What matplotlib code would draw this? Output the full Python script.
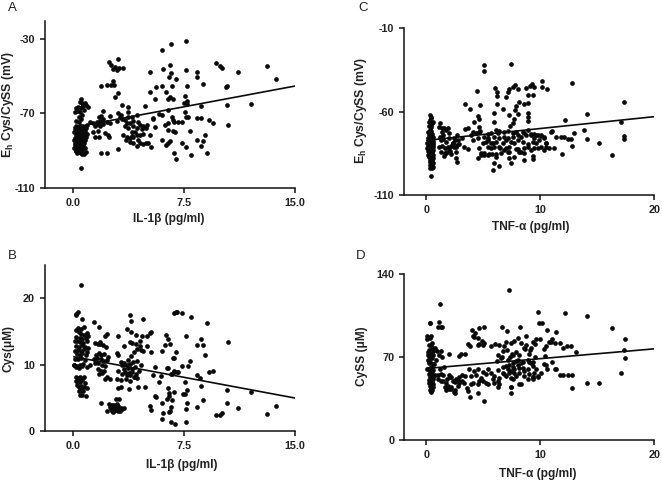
import matplotlib
matplotlib.use("Agg")
import matplotlib.pyplot as plt

plt.rcParams['font.family'] = ['Liberation Sans', 'DejaVu Sans']
plt.rcParams['mathtext.fontset'] = 'custom'
plt.rcParams['mathtext.rm'] = 'Liberation Sans:bold'
plt.rcParams['axes.unicode_minus'] = False

a_x = [7.6,6.59,6.02,9.68,9.93,10.08,13.08,11.14,13.69,6.52,6.09,5.21,7.6,8.39,6.59,6.5,6.95,8.39,8.78,10.38,10.35,6.0,5.59,6.68,7.69,
       5.21,6.29,7.56,5.5,6.43,6.77,6.54,7.67,7.51,7.69,12.02,10.38,8.64,4.83,6.43,7.58,7.62,5.82,5.98,5.39,6.7,6.77,7.76,8.39,8.64,9.2,9.45,10.49,
       6.2,6.43,6.79,7.08,7.38,5.5,6.41,6.77,6.9,7.87,5.21,8.91,6.02,6.54,6.41,6.25,8.39,8.78,8.66,7.38,7.62,9.02,7.99,6.81,6.97,5.28,4.9,
       .52,.45,.56,.79,.86,.97,.68,.34,.18,.45,.61,.27,.11,.45,.72,.56,.41,.18,.38,.52,
       .15,.31,.44,.62,.76,.95,.1,.24,.41,.55,.71,.86,.05,.21,.36,.5,.64,.82,.16,.29,.46,.6,.77,.93,.09,.26,.39,.56,.7,.84,.06,.22,.37,.52,.66,.8,
       .14,.3,.45,.58,.74,.11,.25,.42,.54,.69,.07,.2,.35,.49,.63,.78,.16,.3,.47,.6,.17,.33,.62,.74,.54,.85,.28,.41,.57,
       .54,1.13,1.35,1.58,1.74,1.87,2.03,1.8,1.92,1.65,1.47,1.8,2.03,2.26,2.48,2.48,2.03,1.35,1.69,1.74,1.47,2.14,2.37,2.44,1.87,2.25,3.03,
       2.41,3.03,2.52,2.82,3.11,3.34,2.71,2.93,1.87,2.25,2.52,2.66,2.78,3.05,2.82,3.32,3.7,3.68,
       3.05,3.2,3.16,3.3,3.72,3.95,4.29,2.98,3.5,3.6,3.83,4.06,4.4,4.51,4.74,4.96,3.5,3.72,4.06,4.29,4.63,4.9,3.38,3.6,3.83,4.06,4.29,3.95,4.17,4.51,4.74,3.83,4.06,4.33,4.51,4.74,5.03,3.95,4.4,3.56,5.42]
a_y = [-31.3,-32.5,-36.1,-42.7,-44.7,-45.6,-44.7,-47.9,-51.7,-43.8,-46.1,-47.8,-46.9,-47.8,-48.1,-50.4,-51.3,-50.4,-54,-55.3,-55.8,-55.5,-56,-55.5,-55.5,
       -58.5,-58.5,-60.5,-62.1,-62.1,-62.1,-61.2,-63.4,-64.6,-65,-64.8,-65.3,-65.9,-66.2,-68.4,-69.1,-71.8,-70.5,-71.1,-72.3,-72,-73.6,-72.2,-72.7,-72.5,-73.8,-75.2,-76.5,
       -76.1,-75,-74.7,-74.8,-74.8,-77.4,-79,-79.3,-80.2,-79.3,-81.5,-81.5,-84.5,-84.9,-86.1,-86.9,-84.2,-85.1,-87.6,-86,-88.1,-91.3,-92.2,-91.3,-94.6,-88.1,-85.8,
       -62.3,-63.7,-64.6,-64.3,-65.5,-66.8,-66,-66.8,-67.3,-67.3,-66.8,-68.6,-69.5,-69.1,-68.2,-70.9,-72.2,-73.9,-74.5,-73.2,
       -76.8,-77.2,-76.6,-77,-77.3,-76.4,-78.4,-78.6,-78.2,-78.7,-78.5,-78,-80.1,-79.8,-80.2,-80,-79.7,-79.5,-81.5,-81.3,-81.7,-81.2,-81.6,-81,-83,-82.8,-83.2,-82.9,-83.1,-82.5,
       -84.4,-84.6,-84.2,-84.7,-84.3,-84.1,-85.9,-85.6,-86.1,-85.8,-85.7,-87.2,-87.4,-87.1,-87.5,-87,-88.8,-88.6,-89,-88.7,-88.4,-88.5,-90.2,-90,-90.4,-90.1,-90.3,-89.7,-91.4,-91.6,-91.2,-91,-91.5,-90.8,-91.8,
       -99.5,-74.5,-75,-74.4,-72.2,-71.4,-73.2,-73.9,-74.5,-75.9,-76.7,-76.7,-75.9,-74.5,-75,-71.2,-68.6,-79.9,-79.3,-82.5,-82.5,-80.8,-81.7,-82.5,-91.2,-91.2,-89.2,
       -42.4,-41,-44,-44.9,-45.4,-45.4,-46.1,-46.6,-55.5,-55,-54.8,-52.7,-54.8,-58.9,-61,-65.7,-66.6,-69,
       -70,-71,-72.2,-72.9,-72,-72.2,-70.9,-73.9,-73.6,-75.4,-75.4,-74,-74.5,-76.3,-76.9,-76.3,-76.7,-77.9,-77,-77.9,-78.4,-77.9,-81.7,-82.6,-83.5,-82.6,-81.7,-80,-80,-81.7,-81,-85.3,-86.1,-87.6,-85.8,-86.6,-85.8,-82,-84.6,-84.2,-72.9]

b_x = [.54,.3,.2,.15,.6,6.95,6.81,7.04,7.38,7.99,9.02,10.49,7.6,8.66,8.39,8.78,8.91,7.87,7.76,7.33,7.08,6.79,6.63,8.39,8.6,8.62,9.2,9.45,10.38,12.02,10.38,11.14,8.78,8.39,13.69,13.08,10.08,9.93,9.68,7.6,6.9,6.59,6.02,6.07,6.02,6.5,6.59,6.54,7.6,7.69,7.56,7.69,7.44,7.58,6.72,6.92,6.81,6.29,6.43,6.54,6.2,6.02,5.21,5.28,5.01,4.63,5.28,5.5,5.42,5.93,5.8,6.32,6.43,6.7,6.79,5.5,5.62,5.21,5.23,4.83,6.41,6.47,6.32,6.5,6.79,6.68,7.0,
       4.74,3.81,3.92,3.61,3.9,3.02,2.26,2.14,1.83,1.42,1.72,3.99,4.24,4.51,4.24,4.51,4.96,4.69,3.43,3.83,2.93,
       .3,.5,.7,.9,.15,.38,.55,.75,.98,.2,.42,.62,.85,.1,.28,.46,.68,.92,.16,.36,.58,.8,1.02,.12,.3,.5,.7,.95,.22,.44,.6,.84,.1,.33,.55,.78,.05,.25,.48,.66,.9,1.15,.02,.2,.38,.6,.18,.3,.42,.55,.7,.15,.28,.44,.6,.76,.28,.4,.55,.72,.9,.36,.52,.68,.46,.62,.84,
       1.5,1.65,1.8,2.0,2.2,1.55,1.75,1.9,2.1,2.35,1.4,1.6,1.85,2.05,2.25,1.5,1.7,1.95,2.15,1.65,1.85,2.05,1.75,1.95,2.3,2.5,2.15,
       3.0,3.2,3.45,3.7,3.9,4.1,4.3,4.55,3.3,3.6,3.85,4.05,4.3,4.6,3.4,3.7,3.95,4.2,4.45,3.5,3.75,4.0,4.25,3.05,3.3,3.6,3.85,4.1,4.3,2.95,3.2,3.55,3.85,4.15,4.4,3.0,3.25,3.8,
       1.9,2.4,2.6,2.75,2.9,3.1,2.45,2.65,2.85,3.05,3.3,2.6,2.8,3.0,3.15,2.3,2.55,2.85,3.05,3.2,3.4,2.7,2.95]
b_y = [21.95,18,17.5,17.7,16.95,17.9,17.75,18,17.8,17.15,16.3,13.4,14.4,13.9,12.95,12.95,11.4,10.55,9.75,9.85,8.95,8.95,8.55,8.5,8,6.8,8.9,9.05,6.2,5.95,4.2,3.5,4.7,3.7,3.8,2.55,2.8,2.45,2.45,1.4,1.05,1.4,1.9,2.75,4.3,2.95,3.7,3.05,3.3,4.3,5.55,6.15,5.65,7.45,10.95,11.95,10.95,14.55,13.9,13.05,12.95,12.05,14.8,14.95,14.3,14.4,11.95,9.65,8.45,8.3,7.4,9.55,9.55,8.55,9.05,5.3,5.15,3.8,3.15,6.7,6.55,5.8,4.9,5.3,5.95,4.65,8.95,
       16.95,17.45,16.65,15.4,14.95,14.3,14.65,14.4,13.05,16.45,15.7,13.3,14.45,13.55,13.15,12.8,12.8,12.05,12.8,13.45,11.8,
       15.6,15.4,15.7,14.8,15.2,15,14.7,14.5,14.4,14.2,14.1,13.9,14,13.5,13.6,13.4,13.2,13.5,12.8,12.7,12.9,12.6,12.5,12.1,12.2,12,12.3,11.9,11.6,11.5,11.7,11.4,10.9,10.8,11,10.7,9.9,9.8,10,10.1,9.7,10,9.9,9.6,9.5,9.8,8.2,8,8.1,7.9,8.2,7.5,7.6,7.4,7.7,7.3,6.9,6.7,6.8,6.6,6.5,6.1,6.2,6,5.4,5.5,5.3,
       13.3,13.1,13.4,12.9,12.6,11.5,11.7,11.4,11.6,11.2,10.9,11,10.8,10.6,10.7,10.2,10.3,10,9.8,9.4,9.1,9,8.6,8.8,8.2,7.9,7.8,
       11.4,10.4,10.3,10.7,11.3,11.9,12.4,12.2,9.9,10,10.1,10.4,10.5,9.9,9.4,9.5,9.3,9.6,9.1,8.9,8.8,8.9,8.6,9,8.6,8.5,8.4,8.2,8,7.9,7.7,7.9,7.6,8.1,6.6,6.5,6.7,6.4,
       4.3,4.1,4,3.9,4.8,4.9,3.7,3.6,3.5,3.8,3.4,3,3.2,3.4,3,3,3.3,3.2,3.1,3.5,3.45,2.9,4.05]

c_x = [.44,5.09,5.09,7.43,10.15,12.78,17.34,14.09,12.19,10.12,10.58,9.24,9.12,9.42,8.74,8.01,7.78,7.6,7.28,7.19,6.99,6.02,6.17,6.2,4.44,3.42,3.86,4.74,6.2,6.7,5.96,4.5,4.65,4.21,5.91,7.28,7.66,7.57,7.37,7.81,7.89,8.16,8.54,8.89,9.33,8.95,8.89,8.89,8.95,8.01,
       17.08,17.37,17.37,13.86,14.09,12.98,12.78,15.12,16.29,11.9,12.69,12.4,12.1,11.8,11.37,10.9,11.05,11.16,10.79,10.5,10.5,10.35,10.05,9.77,9.47,9.18,8.89,8.6,
       4.5,5.09,4.8,5.38,5.8,6.11,5.96,6.4,5.88,7.43,7.22,7.72,8.6,9.33,9.39,8.54,8.07,8.3,7.13,6.84,6.49,5.96,5.67,5.38,
       .3,.4,.35,.25,.45,.5,.38,.2,.4,.55,.3,.45,.15,.35,.5,.25,.42,.55,.12,.3,.46,.35,.6,.22,.38,.5,.1,.28,.45,.56,.18,.35,.5,.62,.05,.25,.4,.58,.12,.3,.46,.6,.2,.36,.52,.12,.3,.48,.6,.22,.38,.54,.3,.46,.62,.35,.5,.4,.56,.3,.48,.4,.55,.36,.5,
       1.2,1.15,1.35,1.4,1.45,1.55,1.2,1.75,1.9,2.0,2.4,2.7,1.3,1.5,1.75,2.0,2.3,2.55,2.8,3.1,1.15,1.4,1.65,1.9,2.15,2.45,2.7,1.3,1.6,1.8,2.1,2.6,2.65,
       8.3,8.74,9.18,9.62,10.06,10.35,10.5,7.87,7.57,7.13,6.84,6.4,6.11,5.67,5.38,5.09,4.65,4.36,4.06,3.92,3.63,3.39,4.65,4.74,
       8.45,8.89,9.33,9.62,10.06,9.77,10.35,9.18,8.89,8.01,7.72,7.43,6.99,6.7,6.4,6.11,5.82,5.38,4.94,4.5,4.06,5.38,5.96,6.4,6.84,7.57,8.01,7.28,7.87,6.55,7.28,8.16,9.47,4.8,5.09,5.53,6.11,
       3.33,3.63,2.89,2.6,2.31,2.02,1.73,2.16,1.58,2.6,
       5.23,6.26,7.13,8.45,9.47,9.91,8.6,6.99,5.67,4.65]
c_y = [-98.8,-32.2,-35.6,-31.2,-41.6,-42.8,-54.2,-61.2,-64.8,-45.2,-46.6,-43.4,-44.4,-45.4,-45.6,-46.6,-43.8,-45.4,-46.6,-48.4,-51.4,-45.8,-48,-50.6,-47.8,-55.2,-58.2,-55.8,-55.2,-58.6,-61,-62.4,-64.4,-66.2,-66,-62.2,-64.4,-66.6,-68.6,-59,-56.6,-54.2,-55.4,-54.6,-50,-50,-60.6,-63,-65.4,-61.6,
       -66.2,-74.6,-76.6,-71.2,-76.2,-72.8,-80.6,-78.8,-85.8,-85.2,-76.6,-76.6,-75,-75.4,-75,-72,-71.6,-81.6,-82,-81.4,-79,-75,-74,-74,-73.6,-74,-71,-73,
       -87.8,-84.6,-86,-86,-85.4,-87,-91,-92.4,-94.8,-91,-88,-87,-88.8,-88.4,-86.4,-85,-82.4,-84,-84,-83,-82,-81,-79,-77,
       -62,-63.5,-65,-66,-64,-67,-68,-68.5,-69.5,-66,-71,-71.5,-72,-73,-73.5,-74,-75,-75,-76,-76,-76.5,-77.5,-77.5,-78,-78,-78.5,-79,-79.5,-79.5,-79,-80.5,-80.5,-81,-80,-82,-82,-82.5,-81.5,-83.5,-83.5,-84,-83,-85,-85,-85,-86,-86.5,-86.5,-86,-87.5,-87.5,-88,-89,-89,-88,-90,-90,-91,-91,-92,-92,-93,-93,-94,-94,
       -67,-69,-70,-72,-74,-70,-75,-71,-70,-73,-76,-74,-77,-76.5,-78,-76,-79,-77,-77,-76,-81,-80.5,-82,-81,-80.5,-81,-80,-84,-85,-84,-83.5,-88,-90,
       -75,-74,-73.6,-74,-74.6,-76,-79,-72,-73,-71.4,-72,-71.4,-71,-73,-73.4,-75,-72,-73,-72,-74,-70,-70.4,-69,-71.4,
       -78,-79.4,-78,-79,-81,-82,-83,-83,-81,-77,-79,-78,-77,-79,-81,-78,-79,-81,-79,-76,-77,-76,-75,-76,-75,-75,-74,-81,-82.6,-85,-84,-84,-82,-85,-86,-85.4,-85.6,
       -81,-82.4,-79.6,-81,-79,-82,-85,-85.4,-86.6,-84,
       -78,-73,-76,-72,-76,-77,-82,-82,-82,-82]

d_x = [7.28,1.2,9.77,12.19,14.09,16.29,.3,1.15,1.25,1.0,1.35,.1,.1,4.0,4.25,4.6,5.09,6.67,7.1,8.25,8.74,9.65,9.9,10.15,10.58,11.37,
       17.43,17.37,17.43,17.08,14.09,15.12,12.78,12.78,13.1,12.7,12.3,11.95,11.7,11.3,11.0,10.9,10.75,10.5,10.35,9.35,
       12.0,12.4,11.75,11.3,10.6,10.3,10.05,9.8,9.4,5.09,4.55,3.86,3.66,7.43,7.43,7.6,8.27,2.2,2.0,2.55,2.4,1.75,
       4.1,4.2,4.5,4.9,5.1,5.0,4.55,4.65,3.8,3.7,
       5.7,6.0,6.4,6.8,7.0,7.4,7.7,8.05,8.35,8.75,9.2,9.55,9.95,6.3,6.7,7.3,7.9,8.55,9.05,9.5,10.4,6.55,7.05,7.55,8.1,8.7,9.1,
       .3,.45,.35,.2,.4,.5,.25,.55,.15,.38,.5,.28,.42,.6,.18,.35,.5,.22,.4,.56,.1,.28,.46,.32,.5,.62,.2,.38,.54,.3,.45,.6,.25,.4,.55,.35,.5,.28,.42,.58,.36,.5,.4,.55,.44,.35,.5,.42,.25,.18,.5,.6,.3,
       .8,.95,1.1,.7,.85,1.3,1.35,1.55,1.2,.75,1.0,1.3,1.5,1.8,2.0,2.2,2.55,2.85,2.9,3.1,1.05,1.25,1.45,1.75,2.05,2.3,2.6,2.85,3.15,3.4,1.6,1.9,2.2,2.5,2.8,2.45,3.3,3.6,
       3.77,4.21,4.5,4.94,5.38,5.67,6.26,6.7,7.13,7.57,8.01,8.45,8.89,9.33,9.62,
       3.92,4.36,4.8,5.23,5.96,6.4,6.84,7.28,7.72,8.16,8.6,9.04,9.47,
       4.06,4.5,4.94,5.38,5.82,6.26,6.99,7.43,7.87,8.89,9.33,9.77,
       3.92,4.65,5.23,5.96,6.4,6.26,7.43,8.1,9.33,
       7.57,7.87,7.28,8.3,8.89,6.99,6.7,9.18,7.72,8.16,8.6,7.43,
       6.2,6.6,7.2,7.6,8.0,8.5,9.0,9.4,10.5,11.0,11.4,3.4,3.0,2.9,2.0]
d_y = [126.5,114.5,108,107.5,104.5,94.5,99,99.5,95.5,95.5,95,88,85.5,93,90.5,94.5,95,95.5,92,95,88,85,99,99,93,91,
       85,76,69,57,48,48,55,44,74,79,79,78,82,82,85,83,82.5,79,77,83,
       55,55,55,60,60,64,57,54,53,33,40,36.5,41.5,40,45,52,47,43,43,40,41,42,
       88,87,86,84,82,80,80,81,79,81,
       79,81,80,79,83,82,84,86,82,80,78,81,85,72,75,70,74,78,73,70,71,69,76,73,72,77,76,
       99,88,86,80,80,82,76,78,74,73,73,71,70,72,68,66,69,65,62,64,60,60,60,58,58,59,56,55,56,53,53,53,51,51,52,50,49,48,48,47,46,46,44,45,43,42,42,41,67,72,78,75,70,
       78,75,72,64,68,75,70,62,60,55,55,56,55,52,55,53,49,50,53,55,52,50,50,48,53,50,52,48,50,54,45,46,45,42,46,50,48,44,
       59.7,58.3,60.2,57.7,59.7,56.9,58.8,56.9,59.7,61.6,63.3,61.1,59.7,62.5,59.7,
       54.1,54.9,52.7,55.5,54.1,52.7,55.5,56.9,56.9,56.9,54.1,55.5,56.9,
       48.5,47.6,49.9,47.1,51.3,49.9,54.1,52.7,54.1,51.3,53.2,53.5,
       47.1,49.9,48.5,48.5,47.1,44.8,45.1,47.1,51.3,
       65.3,66.7,63.3,65.3,67.2,62.5,61.6,65.3,59.7,61.1,58.3,58.3,
       67,70,68,72,68,66,66,66,63,66,60,73,73,71,73]

line_a_x = [0.05, 15.0]
line_a_y = [-77.5, -55.3]
line_b_x = [0.05, 15.0]
line_b_y = [11.2, 5.0]
line_c_x = [0.05, 20.0]
line_c_y = [-77.2, -63.0]
line_d_x = [0.05, 20.0]
line_d_y = [60.5, 77.0]

xticks_il = [0.0, 7.5, 15.0]
xlabels_il = ['0.0', '7.5', '15.0']
xticks_tnf = [0, 10, 20]
yticks_a = [-110, -70, -30]
yticks_b = [0, 10, 20]
yticks_c = [-110, -60, -10]
yticks_d = [0, 70, 140]

W, H = 662, 482
fig = plt.figure(figsize=(W/100, H/100), dpi=100, facecolor='white')

def make_ax(left, right, top, bottom):
    return fig.add_axes([left/W, 1-bottom/H, (right-left)/W, (bottom-top)/H])

TXT = '#222222'
def style(ax, x, y, lx, ly, xlim, ylim, xt, xl, yt, xlabel, ylabel, xlab_pos, ylab_pos, ylab_size):
    ax.scatter(x, y, s=11.5, c='#0a0a0a', linewidths=0, zorder=3, clip_on=False)
    ax.plot(lx, ly, color='#0a0a0a', lw=1.2, zorder=4)
    ax.set_xlim(*xlim)
    ax.set_ylim(*ylim)
    ax.set_xticks(xt)
    ax.set_xticklabels(xl)
    ax.set_yticks(yt)
    for s in ('top', 'right'):
        ax.spines[s].set_visible(False)
    for s in ('left', 'bottom'):
        ax.spines[s].set_linewidth(1.1)
        ax.spines[s].set_color('#111111')
    ax.tick_params(length=3.6, width=1.1, color='#111111', labelsize=7.8, labelcolor=TXT, pad=3.5)
    for t in ax.get_xticklabels() + ax.get_yticklabels():
        t.set_fontweight('bold')
    ax.set_xlabel(xlabel, fontsize=8.6, fontweight='bold', color=TXT, va='center', ha='center')
    ax.xaxis.set_label_coords(xlab_pos[0]/W, 1-xlab_pos[1]/H, transform=fig.transFigure)
    ax.set_ylabel(ylabel, fontsize=ylab_size, fontweight='bold', color=TXT, va='center', ha='center')
    ax.yaxis.set_label_coords(ylab_pos[0]/W, 1-ylab_pos[1]/H, transform=fig.transFigure)

EH = r'E$_{\mathrm{h}}$ Cys/CySS (mV)'
ax = make_ax(44.7, 295, 21, 187.7)
style(ax, a_x, a_y, line_a_x, line_a_y, (-1.935, 15), (-110, -20.3), xticks_il, xlabels_il, yticks_a, 'IL-1β (pg/ml)', EH, (169, 219), (8, 104), 8.8)
ax = make_ax(44.7, 295, 265, 431.3)
style(ax, b_x, b_y, line_b_x, line_b_y, (-1.935, 15), (0, 25), xticks_il, xlabels_il, yticks_b, 'IL-1β (pg/ml)', 'Cys(μM)', (182, 465), (9, 348), 8.6)
ax = make_ax(404.3, 654.3, 28.3, 195)
style(ax, c_x, c_y, line_c_x, line_c_y, (-1.93, 20), (-110, -10), xticks_tnf, [str(v) for v in xticks_tnf], yticks_c, 'TNF-α (pg/ml)', EH, (531, 227), (361, 110), 8.8)
ax = make_ax(404.3, 654.3, 274, 440.3)
style(ax, d_x, d_y, line_d_x, line_d_y, (-1.93, 20), (0, 140), xticks_tnf, [str(v) for v in xticks_tnf], yticks_d, 'TNF-α (pg/ml)', 'CySS (μM)', (538, 474), (362, 356), 8.6)

for lab, px, py in [('A', 12, 8), ('C', 363, 8), ('B', 12, 256), ('D', 361, 256)]:
    fig.text(px/W, 1-py/H, lab, fontsize=9.5, color=TXT, ha='center', va='center')

fig.savefig('out.png', dpi=100)
